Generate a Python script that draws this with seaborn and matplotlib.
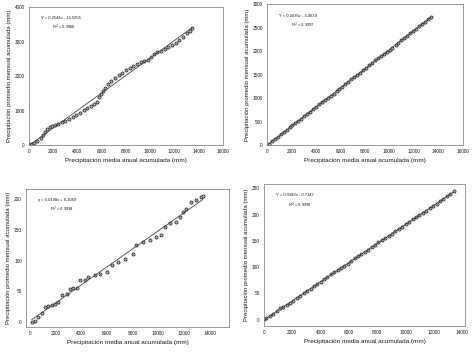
import numpy as np
import matplotlib
matplotlib.use("Agg")
import matplotlib.pyplot as plt
import seaborn as sns

# panel a: irregular curve, 0-16000 x 0-4000
x_a = [0, 200, 450, 700, 950, 1150, 1300, 1500, 1700, 1900, 2150, 2400, 2700, 3000,
       3300, 3600, 3900, 4200, 4500, 4800, 5100, 5350, 5600, 5800, 5950, 6100, 6300,
       6550, 6800, 7100, 7400, 7700, 8000, 8300, 8600, 8900, 9200, 9500, 9800, 10100,
       10350, 10600, 10900, 11200, 11500, 11800, 12100, 12400, 12700, 13000, 13250, 13450]
y_a = [0, 20, 60, 120, 200, 280, 380, 460, 520, 560, 590, 620, 660, 700,
       760, 820, 870, 940, 1010, 1070, 1130, 1180, 1260, 1380, 1480, 1580, 1660,
       1780, 1860, 1930, 2020, 2100, 2170, 2240, 2300, 2360, 2400, 2440, 2480, 2540,
       2640, 2690, 2740, 2790, 2840, 2890, 2960, 3050, 3140, 3250, 3320, 3380]

# panel b: near-straight, 0-16000 x 0-3000
x_b = [0, 180, 420, 650, 900, 1130, 1380, 1600, 1850, 2080, 2320, 2560, 2800, 3050,
       3290, 3520, 3760, 4010, 4250, 4480, 4730, 4970, 5200, 5450, 5690, 5920, 6160,
       6400, 6650, 6890, 7120, 7370, 7600, 7850, 8090, 8320, 8570, 8810, 9050, 9290,
       9530, 9770, 10010, 10250, 10500, 10740, 10980, 11220, 11460, 11700, 11950,
       12190, 12430, 12670, 12910, 13150, 13400]
y_b = [2, 30, 80, 125, 178, 235, 285, 330, 380, 425, 470, 515, 562, 612,
       660, 710, 765, 820, 868, 912, 962, 1010, 1052, 1098, 1142, 1185, 1236,
       1296, 1352, 1405, 1448, 1495, 1540, 1592, 1645, 1698, 1756, 1808, 1852, 1895,
       1940, 1982, 2025, 2072, 2125, 2178, 2230, 2278, 2325, 2378, 2432,
       2480, 2530, 2578, 2626, 2676, 2728]

# panel c: stepwise curve, 0-14000 x 0-200
x_c = [130, 390, 650, 907, 1167, 1426, 1700, 1944, 2200, 2463, 2852, 3111, 3380, 3630,
       3889, 4278, 4537, 5056, 5444, 5963, 6352, 6870, 7389, 8037, 8296, 8815, 9333,
       9852, 10241, 10500, 10889, 11407, 11667, 11926, 12185, 12574, 12963, 13352, 13481]
y_c = [0, 2, 8, 14, 24.5, 27, 28, 30, 33, 44, 46, 54.5, 55, 56,
       68, 68, 73.6, 76, 79, 82, 92.6, 98, 103.5, 111.7, 125, 131, 133.5,
       139, 141.7, 155, 161, 163.5, 171.7, 180, 185, 196, 199, 204, 205]

# panel d: near-straight, 0-14000 x 0-250
x_d = x_b
y_d = [1, 3, 7, 11, 16.5, 21.5, 25, 28, 32, 36, 40.5, 45, 50, 54,
       58.5, 64, 68.5, 72.5, 76.5, 81, 86, 90.5, 94.5, 98, 102, 106.5, 111.5,
       116.5, 121.5, 125.5, 129, 133, 137.5, 142.5, 147, 151, 155.5, 159.5, 163.5, 168,
       172.5, 177, 181.5, 186, 191, 195, 199, 203, 207.5, 212, 216.5,
       221, 225.5, 230, 234.5, 239, 244]

eq_a = ["Y = 0.2544x - 16.5655", "R$^2$ = 0.9900"]
eq_b = ["Y = 0.2036x - 3.4639", "R$^2$ = 0.9997"]
eq_c = ["y = 0.0148x + 6.1069", "R$^2$ = 0.9918"]
eq_d = ["Y = 0.0182x - 0.7147", "R$^2$ = 0.9996"]

xlab = "Precipitación media anual acumulada (mm)"
ylab = "Precipitación promedio mensual acumulada (mm)"

sns.set_style("white")
plt.rcParams['font.family'] = ['Liberation Sans', 'DejaVu Sans']
txt = '#1a1a1a'
edge = '#8a8a8a'

fig = plt.figure(figsize=(4.73, 3.53), dpi=100)

panels = [
    (x_a, y_a, eq_a, [0.0613, 0.589, 0.410, 0.391], (0, 16000), np.arange(0, 16001, 2000), (0, 4000), np.arange(0, 4001, 1000)),
    (x_b, y_b, eq_b, [0.5645, 0.589, 0.414, 0.399], (0, 16000), np.arange(0, 16001, 2000), (0, 3000), np.arange(0, 3001, 500)),
    (x_c, y_c, eq_c, [0.055, 0.0737, 0.429, 0.391], (-310, 15500), np.arange(0, 14001, 2000), (-8, 217), np.arange(0, 201, 50)),
    (x_d, y_d, eq_d, [0.558, 0.0765, 0.425, 0.402], (0, 14200), np.arange(0, 14001, 2000), (-12, 258), np.arange(0, 251, 50)),
]

for xs, ys, eq, pos, xl, xt, yl, yt in panels:
    ax = fig.add_axes(pos)
    sns.regplot(x=np.array(xs), y=np.array(ys), ax=ax, ci=None,
                scatter_kws=dict(s=5, facecolors='#b0b0b0', edgecolors='#2a2a2a', linewidths=0.55, alpha=1),
                line_kws=dict(color='#444444', lw=0.6))
    ax.set_xlim(*xl)
    ax.set_ylim(*yl)
    ax.set_xticks(xt)
    ax.set_yticks(yt)
    ax.tick_params(labelsize=3.4, colors=txt, length=1.5, width=0.5, pad=1.5, direction='out')
    ax.tick_params(axis='both', color=edge)
    ax.set_xlabel(xlab, fontsize=4.6, color=txt, labelpad=3)
    ax.set_ylabel(ylab, fontsize=4.3, color=txt, labelpad=2)
    for s in ax.spines.values():
        s.set_color(edge)
        s.set_linewidth(0.6)
    ax.text(0.06, 0.92, eq[0], transform=ax.transAxes, fontsize=3.0, color=txt, va='center')
    ax.text(0.12, 0.85, eq[1], transform=ax.transAxes, fontsize=3.0, color=txt, va='center')

fig.savefig("out.png", dpi=100)
